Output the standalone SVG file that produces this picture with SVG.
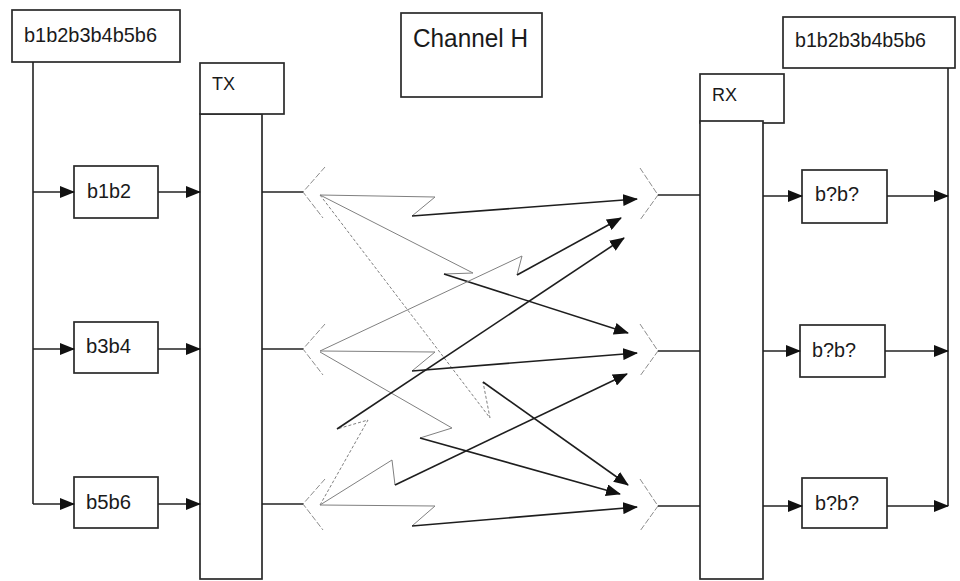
<svg xmlns="http://www.w3.org/2000/svg" width="960" height="581" viewBox="0 0 960 581">
  <defs>
    <marker id="arrow" markerUnits="userSpaceOnUse" markerWidth="15" markerHeight="12" refX="14" refY="6" orient="auto">
      <path d="M0,0 L15,6 L0,12 z" fill="#111"/>
    </marker>
    <style>
      .box { fill: #fff; stroke: #2a2a2a; stroke-width: 1.7; }
      .wire { fill: none; stroke: #222; stroke-width: 1.6; }
      .ant { fill: none; stroke: #8c8c8c; stroke-width: 1; stroke-dasharray: 6 2; }
      .faint { fill: none; stroke: #808080; stroke-width: 1; }
      .dotted { fill: none; stroke: #808080; stroke-width: 1; stroke-dasharray: 3 2; }
      .ray { fill: none; stroke: #1e1e1e; stroke-width: 1.6; }
      text { font-family: "Liberation Sans", Arial, sans-serif; fill: #1a1a1a; }
      .lbl { font-size: 20px; }
      .tag { font-size: 18px; }
    </style>
  </defs>

  <rect width="960" height="581" fill="#fff"/>

  <!-- source and sink words -->
  <g id="src">
    <rect class="box" x="12" y="10" width="168" height="52"/>
    <text x="24" y="42" font-size="21" textLength="133" lengthAdjust="spacingAndGlyphs">b1b2b3b4b5b6</text>
  </g>
  <g id="sink">
    <rect class="box" x="783" y="17" width="172" height="51"/>
    <text x="795" y="47" font-size="21" textLength="131" lengthAdjust="spacingAndGlyphs">b1b2b3b4b5b6</text>
  </g>

  <g id="channel">
    <rect class="box" x="401" y="13" width="141" height="84"/>
    <text x="413" y="47" font-size="25" textLength="115" lengthAdjust="spacingAndGlyphs">Channel H</text>
  </g>

  <!-- transmitter -->
  <g id="tx">
    <rect class="box" x="200" y="114" width="62" height="465"/>
    <rect class="box" x="200" y="63" width="84" height="51"/>
    <text class="tag" x="212" y="90">TX</text>
  </g>

  <!-- receiver -->
  <g id="rx">
    <rect class="box" x="700" y="74" width="84" height="49"/>
    <rect class="box" x="700" y="121" width="63" height="458"/>
    <text class="tag" x="712" y="101">RX</text>
  </g>

  <!-- bit-pair encoders -->
  <g id="enc1">
    <rect class="box" x="74" y="166" width="84" height="52"/>
    <text class="lbl" x="87" y="198" textLength="44" lengthAdjust="spacingAndGlyphs">b1b2</text>
  </g>
  <g id="enc2">
    <rect class="box" x="74" y="322" width="84" height="51"/>
    <text class="lbl" x="86" y="353" textLength="45" lengthAdjust="spacingAndGlyphs">b3b4</text>
  </g>
  <g id="enc3">
    <rect class="box" x="74" y="477" width="84" height="51"/>
    <text class="lbl" x="86" y="509" textLength="45" lengthAdjust="spacingAndGlyphs">b5b6</text>
  </g>

  <!-- decoders -->
  <g id="dec1">
    <rect class="box" x="802" y="170" width="85" height="53"/>
    <text class="lbl" x="815" y="201" textLength="44" lengthAdjust="spacingAndGlyphs">b?b?</text>
  </g>
  <g id="dec2">
    <rect class="box" x="800" y="325" width="85" height="52"/>
    <text class="lbl" x="812" y="357" textLength="44" lengthAdjust="spacingAndGlyphs">b?b?</text>
  </g>
  <g id="dec3">
    <rect class="box" x="802" y="478" width="85" height="50"/>
    <text class="lbl" x="815" y="510" textLength="44" lengthAdjust="spacingAndGlyphs">b?b?</text>
  </g>

  <!-- antennas -->
  <g id="antennas">
    <path class="ant" d="M325,167 L303,192 L323,218"/>
    <path class="ant" d="M325,324 L303,349 L323,375"/>
    <path class="ant" d="M325,479 L303,504 L323,530"/>
    <path class="ant" d="M640,168 L658,195 L640,220"/>
    <path class="ant" d="M640,324 L658,351 L640,376"/>
    <path class="ant" d="M640,479 L658,506 L640,531"/>
  </g>

  <g id="connectors">
    <!-- split of source word -->
    <path class="wire" d="M33,62 L33,504"/>
    <path class="wire" d="M33,192 L74,192" marker-end="url(#arrow)"/>
    <path class="wire" d="M33,349 L74,349" marker-end="url(#arrow)"/>
    <path class="wire" d="M33,504 L74,504" marker-end="url(#arrow)"/>
    <!-- encoders into TX -->
    <path class="wire" d="M158,192 L200,192" marker-end="url(#arrow)"/>
    <path class="wire" d="M158,349 L200,349" marker-end="url(#arrow)"/>
    <path class="wire" d="M158,504 L200,504" marker-end="url(#arrow)"/>
    <!-- TX to antennas -->
    <path class="wire" d="M262,192 L303,192"/>
    <path class="wire" d="M262,349 L303,349"/>
    <path class="wire" d="M262,504 L303,504"/>
    <!-- antennas to RX -->
    <path class="wire" d="M658,195 L700,195"/>
    <path class="wire" d="M658,351 L700,351"/>
    <path class="wire" d="M658,506 L700,506"/>
    <!-- RX to decoders -->
    <path class="wire" d="M763,196 L802,196" marker-end="url(#arrow)"/>
    <path class="wire" d="M763,351 L800,351" marker-end="url(#arrow)"/>
    <path class="wire" d="M763,506 L802,506" marker-end="url(#arrow)"/>
    <!-- decoders to merged word -->
    <path class="wire" d="M948,68 L948,506"/>
    <path class="wire" d="M887,196 L948,196" marker-end="url(#arrow)"/>
    <path class="wire" d="M885,351 L948,351" marker-end="url(#arrow)"/>
    <path class="wire" d="M887,506 L948,506" marker-end="url(#arrow)"/>

    <!-- multipath rays: faint leg, zig, then dark arrow -->
    <g id="paths-from-1">
      <path class="faint" d="M320,195 L435,197 L412,216"/>
      <path class="ray" d="M412,216 L637,199" marker-end="url(#arrow)"/>
      <path class="faint" d="M320,195 L473,273 L444,274"/>
      <path class="ray" d="M444,274 L628,333" marker-end="url(#arrow)"/>
      <path class="dotted" d="M320,195 L490,418 L483,382"/>
      <path class="ray" d="M483,382 L628,485" marker-end="url(#arrow)"/>
    </g>
    <g id="paths-from-2">
      <path class="faint" d="M320,351 L435,352 L412,371"/>
      <path class="ray" d="M412,371 L637,353" marker-end="url(#arrow)"/>
      <path class="faint" d="M320,351 L522,256 L517,275"/>
      <path class="ray" d="M517,275 L621,218" marker-end="url(#arrow)"/>
      <path class="faint" d="M320,352 L452,428 L420,438"/>
      <path class="ray" d="M420,438 L620,494" marker-end="url(#arrow)"/>
    </g>
    <g id="paths-from-3">
      <path class="faint" d="M320,505 L435,506 L412,526"/>
      <path class="ray" d="M412,526 L637,507" marker-end="url(#arrow)"/>
      <path class="dotted" d="M320,505 L368,420 L337,429"/>
      <path class="ray" d="M337,429 L624,238" marker-end="url(#arrow)"/>
      <path class="faint" d="M320,505 L392,460 L395,485"/>
      <path class="ray" d="M395,485 L627,374" marker-end="url(#arrow)"/>
    </g>
  </g>
</svg>
